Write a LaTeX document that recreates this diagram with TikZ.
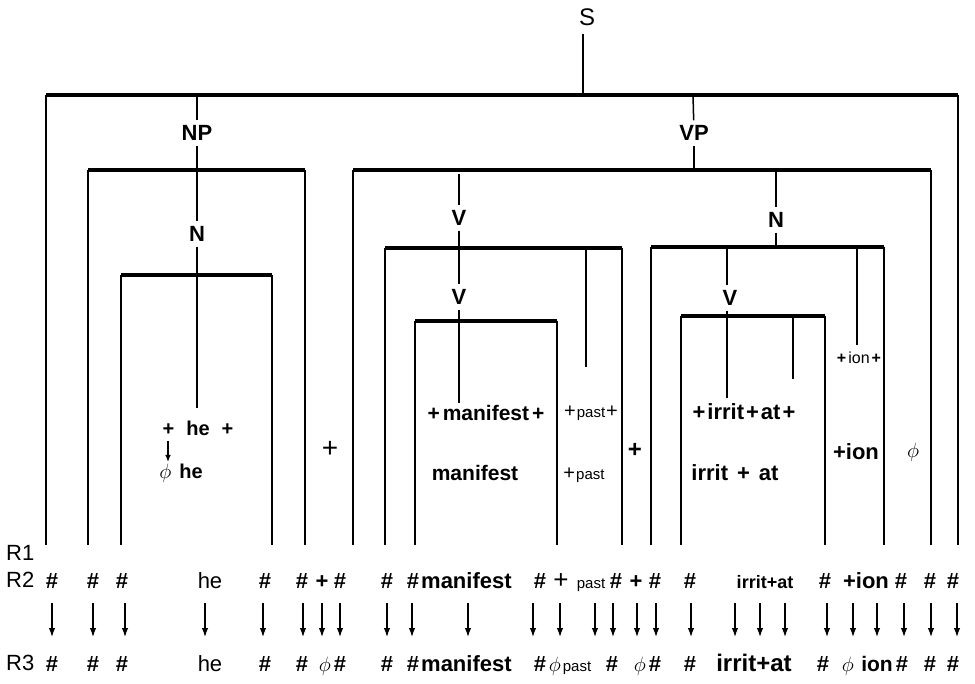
\documentclass[tikz,border=0pt]{standalone}
\usepackage{fontspec}
\setmainfont{Liberation Sans}
\usetikzlibrary{arrows.meta}
\newcommand{\fsz}[1]{\fontsize{#1}{#1}\selectfont}
\begin{document}
\begin{tikzpicture}[x=1pt,y=-1pt,
  lbl/.style={inner sep=0pt, outer sep=5pt, font=\bfseries\fsz{22}},
  mid/.style={inner sep=0pt, font=\bfseries\fsz{21}},
  rw/.style={inner sep=0pt, anchor=base, font=\bfseries\fsz{22}},
  rwn/.style={inner sep=0pt, anchor=base, font=\fsz{22}},
  brk/.style={line width=3.2pt},
  ln/.style={line width=1.5pt},
  arr/.style={line width=1.3pt, -{Latex[length=9pt,width=6.5pt]}}]
\useasboundingbox (0,0) rectangle (975,684);
\coordinate (bot) at (0,545);

% ---- S level
\node[inner sep=0pt, outer sep=9pt, font=\fsz{24}] (S) at (587,17) {S};
\coordinate (sL) at (46,95); \coordinate (sR) at (958,95);
\coordinate (sT) at (583,95); \coordinate (sNP) at (197,95); \coordinate (sVP) at (693,95);
\draw[ln] (S.south -| sT) -- (sT);
\draw[brk] (sL) -- (sR);

% ---- NP
\node[lbl] (NP) at (197,133) {NP};
\coordinate (npL) at (88,170); \coordinate (npR) at (305,170); \coordinate (npB) at (197,170);
\draw[ln] (sNP) -- (NP);
\draw[ln] (NP) -- (npB);
\draw[brk] (npL) -- (npR);

% ---- N (under NP)
\node[lbl] (N1) at (197,234) {N};
\coordinate (nL) at (121,275); \coordinate (nR) at (272,275); \coordinate (nB) at (197,275);
\draw[ln] (npB) -- (N1);
\draw[ln] (N1) -- (nB);
\draw[brk] (nL) -- (nR);
\node[mid, font=\bfseries\fsz{20}] (he1) at (198,428) {+\hspace{12pt}he\hspace{12pt}+};
\node[mid, font=\bfseries\fsz{20}] (he2) at (181,473) {$\phi$\hspace{8pt}he};
\draw[ln, shorten >=12pt] (nB) -- (nB |- he1.north);
\coordinate (ha1) at (168,441); \coordinate (ha2) at (168,462);
\draw[arr, line width=1.2pt, -{Latex[length=7pt,width=5.5pt]}] (ha1) -- (ha2);
\node[inner sep=0pt, font=\fsz{28}] (plus1) at (330,449) {+};

% ---- VP
\node[lbl] (VP) at (694,133) {VP};
\coordinate (vpL) at (353,170); \coordinate (vpR) at (931,170); \coordinate (vpB) at (694,170);
\coordinate (vpV) at (459,170); \coordinate (vpN) at (776,170);
\draw[ln] (sVP) -- (VP);
\draw[ln] (VP) -- (vpB);
\draw[brk] (vpL) -- (vpR);

% ---- V1
\node[lbl] (V1) at (459,218) {V};
\coordinate (v1L) at (385,248); \coordinate (v1R) at (622,248); \coordinate (v1B) at (459,248);
\coordinate (v1P) at (586,248); \coordinate (v1Pe) at (586,367);
\draw[ln, shorten <=4pt] (vpV) -- (V1);
\draw[ln] (V1) -- (v1B);
\draw[brk] (v1L) -- (v1R);
\draw[ln] (v1P) -- (v1Pe);

% ---- V2
\node[lbl] (V2) at (459,297) {V};
\coordinate (v2L) at (415,321); \coordinate (v2R) at (557,321); \coordinate (v2B) at (459,321);
\draw[ln] (v1B) -- (V2);
\draw[ln] (V2) -- (v2B);
\draw[brk] (v2L) -- (v2R);
\node[mid] (man1) at (486,413) {+\hspace{3pt}manifest\hspace{3pt}+};
\node[mid] (man2) at (475,473) {manifest};
\draw[ln, shorten >=2pt] (v2B) -- (v2B |- man1.north);
\node[inner sep=0pt, font=\fsz{20}] (past1) at (591,413) {+\hspace{1pt}{\fsz{15}past}\hspace{1pt}+};
\node[inner sep=0pt, font=\fsz{20}] (past2) at (584,475) {+\hspace{1pt}{\fsz{15}past}};
\node[inner sep=0pt, font=\bfseries\fsz{24}] (plus2) at (635,450) {+};

% ---- N2
\node[lbl] (N2) at (776,220) {N};
\coordinate (n2L) at (651,247); \coordinate (n2R) at (884,247); \coordinate (n2B) at (776,247);
\coordinate (n2V) at (727,247); \coordinate (n2I) at (857,247); \coordinate (n2Ie) at (857,345);
\draw[ln] (vpN) -- (N2);
\draw[ln] (N2) -- (n2B);
\draw[brk] (n2L) -- (n2R);
\draw[ln] (n2I) -- (n2Ie);

% ---- V3
\node[lbl] (V3) at (730,298) {V};
\coordinate (v3L) at (681,316); \coordinate (v3R) at (825,316); \coordinate (v3B) at (727,316);
\coordinate (v3A) at (793,316); \coordinate (v3Ae) at (793,379);
\draw[ln] (n2V) -- (n2V |- V3.north);
\draw[ln] (v3B |- V3.south) -- (v3B);
\draw[brk] (v3L) -- (v3R);
\node[mid, font=\bfseries\fsz{22}] (irr1) at (744,412) {+\hspace{2pt}irrit\hspace{2pt}+\hspace{2pt}at\hspace{2pt}+};
\node[mid, font=\bfseries\fsz{22}] (irr2) at (735,473) {irrit\hspace{9pt}+\hspace{9pt}at};
\draw[ln, shorten >=6pt] (v3B) -- (v3B |- irr1.north);
\draw[ln] (v3A) -- (v3Ae);
\node[inner sep=0pt, font=\fsz{16}] (ion1) at (859,358) {\textbf{+}\hspace{2pt}ion\hspace{2pt}\textbf{+}};
\node[mid, font=\bfseries\fsz{22}] (ion2) at (856,452) {+ion};
\node[inner sep=0pt, font=\fsz{22}] (phi1) at (913,452) {$\phi$};

% ---- legs down to row R1
\foreach \c in {sL,sR,npL,npR,nL,nR,vpL,vpR,v1L,v1R,v2L,v2R,n2L,n2R,v3L,v3R}
  \draw[ln] (\c) -- (\c |- bot);

% ---- row labels
\node[inner sep=0pt, anchor=west, font=\fsz{22}] (R1) at (6,553) {R1};
\node[inner sep=0pt, anchor=west, font=\fsz{22}] (R2) at (6,580) {R2};
\node[inner sep=0pt, anchor=west, font=\fsz{22}] (R3) at (6,663) {R3};

% ---- row R2 (baseline 588)
\foreach \x [count=\i] in {52,93,122,265,302,340,387,413,540,616,655,690,825,901,930,953}
  \node[rw] (a\i) at (\x,588) {\#};
\node[rwn] (aHe) at (210,588) {he};
\node[rw] (aP1) at (322,588) {+};
\node[rw, anchor=base west] (aMan) at (421,588) {manifest};
\node[rwn, font=\fsz{26}] (aP2) at (561,588) {+};
\node[rwn, font=\fsz{15}] (aPast) at (591,588) {past};
\node[rw] (aP3) at (636,588) {+};
\node[rw, font=\bfseries\fsz{18}] (aIrr) at (765,588) {irrit+at};
\node[rw] (aIon) at (866,588) {+ion};

% ---- arrows
\foreach \x in {52,93,125,205,263,303,322,340,387,412,468,533,560,595,613,637,656,691,735,760,785,827,853,877,904,931,957}
  \draw[arr] (\x,603) -- (\x,637);

% ---- row R3 (baseline 671)
\foreach \x [count=\i] in {52,93,122,265,302,340,387,413,540,612,655,690,823,902,930,953}
  \node[rw] (b\i) at (\x,671) {\#};
\node[rwn] (bHe) at (210,671) {he};
\node[rwn] (bPh1) at (325,671) {$\phi$};
\node[rw, anchor=base west] (bMan) at (421,671) {manifest};
\node[rwn] (bPh2) at (555,671) {$\phi$};
\node[rwn, font=\fsz{15}] (bPast) at (577,671) {past};
\node[rwn] (bPh3) at (640,671) {$\phi$};
\node[rw, font=\bfseries\fsz{24}] (bIrr) at (754,671) {irrit+at};
\node[rwn] (bPh4) at (848,671) {$\phi$};
\node[rw, font=\bfseries\fsz{21}] (bIon) at (877,671) {ion};
\end{tikzpicture}
\end{document}
